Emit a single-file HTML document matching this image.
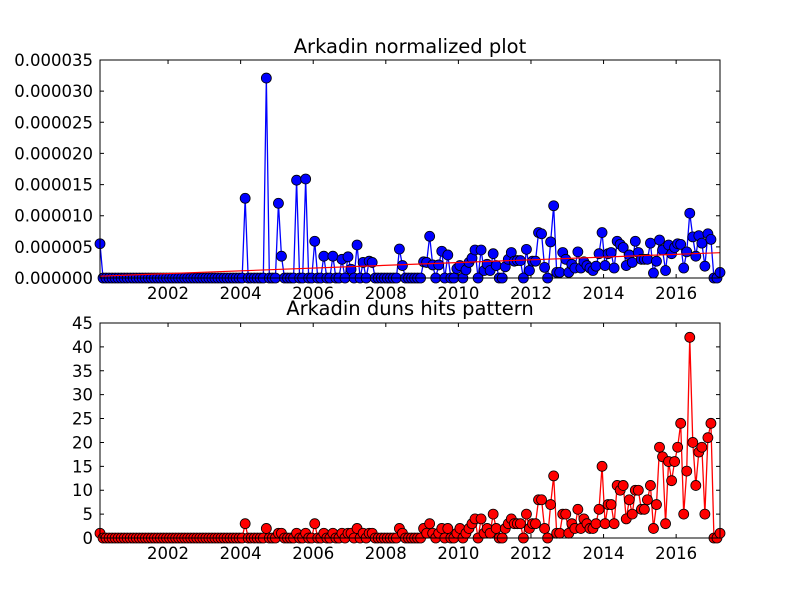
<!DOCTYPE html>
<html><head><meta charset="utf-8"><style>
html,body{margin:0;padding:0;background:#fff;}
svg{display:block;font-family:"DejaVu Sans","Liberation Sans",sans-serif;}
</style></head><body>
<svg id="chart" width="800" height="600" viewBox="0 0 800 600" xmlns="http://www.w3.org/2000/svg">
<rect width="800" height="600" fill="#fff"/>
<text x="410" y="53" font-size="19.5" text-anchor="middle">Arkadin normalized plot</text>
<text x="410" y="315" font-size="19.5" text-anchor="middle">Arkadin duns hits pattern</text>
<g id="top"></g><g id="bot"></g>
</svg>
<script>
const startYear = 2000.125;
const hits = [
1,0,0,0,0,0,0,0,0,0,
0,0,0,0,0,0,0,0,0,0,
0,0,0,0,0,0,0,0,0,0,
0,0,0,0,0,0,0,0,0,0,
0,0,0,0,0,0,0,0,3,0,
0,0,0,0,0,2,0,0,0,1,
1,0,0,0,0,1,0,0,1,0,
0,3,0,0,1,0,0,1,0,0,
1,0,1,1,0,2,0,1,0,1,
1,0,0,0,0,0,0,0,0,2,
1,0,0,0,0,0,0,2,1,3,
1,0,1,2,0,2,0,0,1,2,
0,1,
2,3,4,0,4,1,2,1,5,2,
0,0,2,3,4,3,3,3,0,5,
2,3,3,8,8,2,0,7,13,1,
1,5,5,1,3,2,6,2,4,3,
2,2,3,6,15,3,7,7,3,11,
10,11,4,8,5,10,10,6,6,8,
11,2,7,19,17,3,16,12,16,19,
24,5,14,42,20,11,18,19,5,21,
24,0,0,1];
const normMicro = [
5.5,0,0,0,0,0,0,0,0,0,
0,0,0,0,0,0,0,0,0,0,
0,0,0,0,0,0,0,0,0,0,
0,0,0,0,0,0,0,0,0,0,
0,0,0,0,0,0,0,0,12.8,0,
0,0,0,0,0,32.1,0,0,0,12.0,
3.5,0,0,0,0,15.7,0,0,15.9,0,
0,5.9,0,0,3.5,0,0,3.5,0,0,
3.0,0,3.4,1.4,0,5.3,0,2.5,0,2.7,
2.5,0,0,0,0,0,0,0,0,4.65,
2.0,0,0,0,0,0,0,2.6,2.5,6.7,
2.1,0,2.1,4.3,0,3.7,0,0,1.5,2.0,
0,1.3,
2.5,3.2,4.5,0,4.5,1.2,2.2,1.2,3.9,2.0,
0,0,1.8,3.0,4.1,2.7,2.8,2.8,0,4.6,
1.2,2.7,2.7,7.3,7.1,1.7,0,5.8,11.6,0.9,
0.9,4.1,3.0,0.9,2.2,1.6,4.2,1.6,2.6,2.0,
1.6,1.2,1.9,3.9,7.3,2.0,3.9,4.1,1.6,5.9,
5.4,4.9,2.0,3.7,2.5,5.9,4.1,3.0,3.0,3.0,
5.6,0.8,2.7,6.1,4.5,1.2,5.3,3.9,4.9,5.5,
5.4,1.6,4.2,10.4,6.6,3.5,6.8,5.6,1.9,7.1,
6.2,0,0,0.9];
const xTicks = [2002,2004,2006,2008,2010,2012,2014,2016];
const topYTicks = ["0.000000","0.000005","0.000010","0.000015","0.000020","0.000025","0.000030","0.000035"];
const botYTicks = [0,5,10,15,20,25,30,35,40,45];

const NS="http://www.w3.org/2000/svg";
const L=100,R=720;
const n=hits.length;
const d0=startYear, d1=startYear+(n-1)/12;
const X=d=>L+(d-d0)*(R-L)/(d1-d0);
const dateOf=i=>startYear+i/12;
function mk(tag,parent,attrs){const e=document.createElementNS(NS,tag);for(const k in attrs)e.setAttribute(k,attrs[k]);parent.appendChild(e);return e;}

function panel(g,top,bottom,ymax,vals,color,yLabels,yVals,name){
  const Y=v=>bottom-(v/ymax)*(bottom-top);
  xTicks.forEach(t=>{
    const x=X(t);
    const tk=mk('path',g,{d:`M${x},${bottom}v-4M${x},${top}v4`,stroke:'#000','stroke-width':1});
    
    
    const tx=mk('text',g,{x:x,y:bottom+21,'font-size':16.5,'text-anchor':'middle'});
    tx.textContent=t;
    
    
  });
  yVals.forEach((v,k)=>{
    const y=Y(v);
    const tk=mk('path',g,{d:`M${L},${y}h4M${R},${y}h-4`,stroke:'#000','stroke-width':1});
    
    
    const tx=mk('text',g,{x:L-7,y:y+6,'font-size':16.5,'text-anchor':'end'});
    tx.textContent=yLabels[k];
    
    
  });
  const clipId='clip-'+name;
  const cp=mk('clipPath',g,{id:clipId});
  mk('rect',cp,{x:L-6,y:top-6,width:R-L+12,height:bottom-top+12});
  const dg=mk('g',g,{'clip-path':`url(#${clipId})`});
  const pts=vals.map((v,i)=>[X(dateOf(i)),Y(v)]);
  const line=mk('polyline',dg,{points:pts.map(p=>p.join(',')).join(' '),fill:'none',stroke:color,'stroke-width':1.3});
  
  
  pts.forEach(p=>{
    const c=mk('circle',dg,{cx:p[0],cy:p[1],r:5,fill:color,stroke:'#000','stroke-width':0.8});
    
    
  });
  const fr=mk('rect',g,{x:L,y:top,width:R-L,height:bottom-top,fill:'none',stroke:'#000','stroke-width':1});
  
  
  return {Y,dg};
}
const topG=document.getElementById('top');


const tp=panel(topG,60,278,35,normMicro,'#0000ff',topYTicks,[0,5,10,15,20,25,30,35],'normalized');
let sx=0,sy=0,sxx=0,sxy=0;
normMicro.forEach((v,i)=>{sx+=i;sy+=v;sxx+=i*i;sxy+=i*v;});
const slope=(n*sxy-sx*sy)/(n*sxx-sx*sx), icpt=(sy-slope*sx)/n;
const trend=mk('line',tp.dg,{x1:X(dateOf(0)),y1:tp.Y(icpt),x2:X(dateOf(n-1)),y2:tp.Y(icpt+slope*(n-1)),stroke:'#ff0000','stroke-width':1.2});


const botG=document.getElementById('bot');


panel(botG,323,538,45,hits,'#ff0000',botYTicks.map(String),botYTicks,'hits');
</script>
</body></html>
